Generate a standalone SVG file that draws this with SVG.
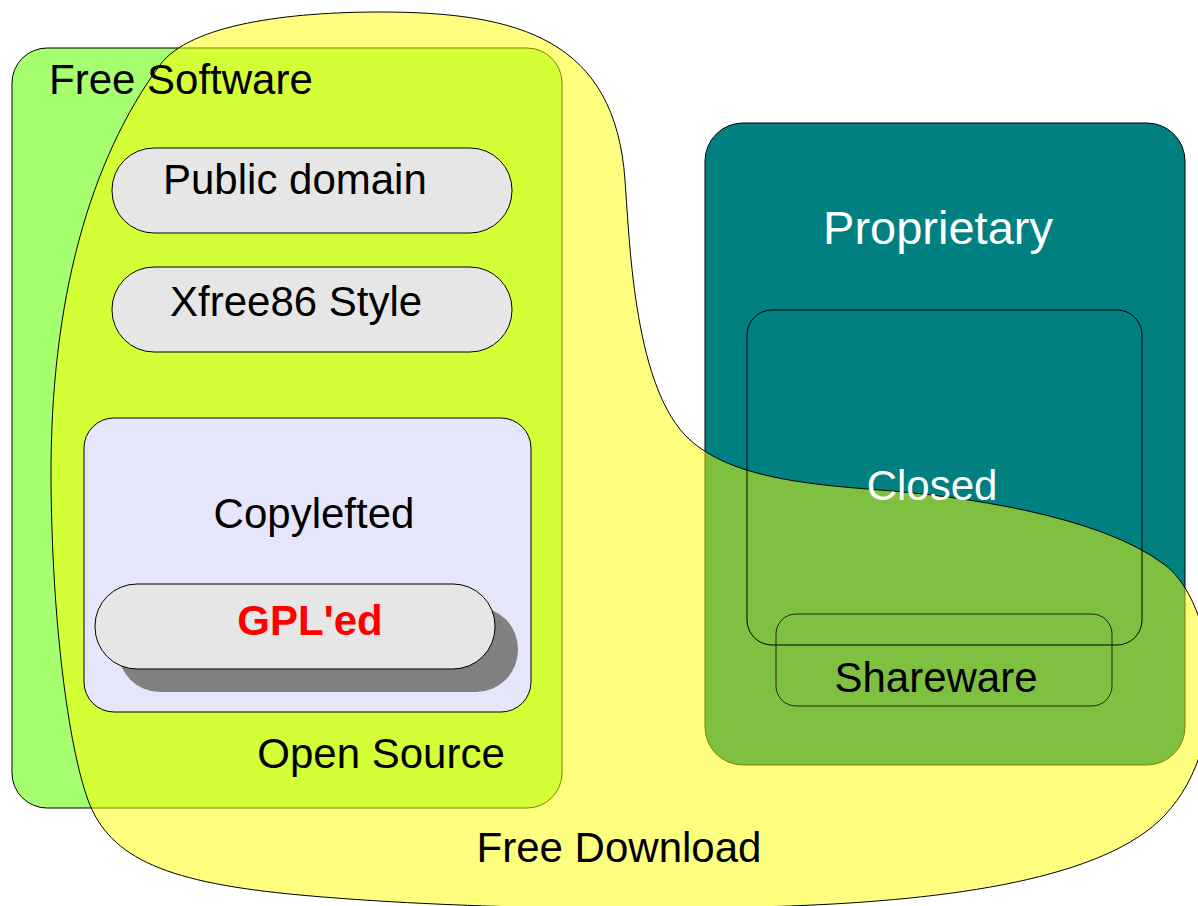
<svg xmlns="http://www.w3.org/2000/svg" width="1198" height="906" viewBox="0 0 1198 906">
<style>
  text { font-family: "Liberation Sans", Arial, sans-serif; font-size: 42px; fill: #000; }
  .pill { fill: #e6e6e6; stroke: #000; stroke-width: 1; }
  .frame { fill: none; stroke: #000; stroke-width: 1; }
  .white { fill: #fff; }
</style>
<rect x="0" y="0" width="1198" height="906" fill="#fff"/>

<g id="free-software">
  <rect x="12" y="48" width="550" height="760" rx="35" ry="35" fill="#a6ff6e" stroke="#000" stroke-width="1"/>
</g>

<g id="proprietary">
  <rect x="705" y="123" width="480" height="642" rx="38" ry="38" fill="#008080" stroke="#000" stroke-width="1"/>
</g>

<g id="free-download">
  <path d="M 51,480 C 50,300 90,160 160,65 C 190,24 290,12 380,12 C 520,12 615,40 625,180 C 630,250 635,390 690,440 C 730,476 800,484 880,490 C 960,496 1100,515 1165,565 C 1215,603 1235,740 1165,815 C 1105,879 950,900 790,906 C 620,912 430,907 300,895 C 170,883 110,860 88,800 C 68,745 52,620 51,480 Z" fill="#ffff00" fill-opacity="0.5" stroke="#000" stroke-width="1"/>
</g>

<g id="public-domain">
  <rect class="pill" x="112" y="148" width="400" height="85" rx="42" ry="42"/>
  <text x="163" y="194">Public domain</text>
</g>

<g id="xfree86">
  <rect class="pill" x="112" y="267" width="400" height="85" rx="42" ry="42"/>
  <text x="170" y="316">Xfree86 Style</text>
</g>

<g id="copylefted">
  <rect x="84" y="418" width="447" height="294" rx="30" ry="30" fill="#e6e6fa" stroke="#000" stroke-width="1"/>
  <text x="314" y="528" text-anchor="middle">Copylefted</text>
</g>

<g id="gpled">
  <rect x="118" y="607" width="400" height="85" rx="42" ry="42" fill="#808080"/>
  <rect class="pill" x="95" y="584" width="400" height="85" rx="42" ry="42"/>
  <text x="310" y="635" text-anchor="middle" style="font-weight:bold; fill:#ff0000">GPL'ed</text>
</g>

<g id="closed">
  <rect class="frame" x="747" y="310" width="395" height="335" rx="25" ry="25"/>
  <text class="white" x="932" y="500" text-anchor="middle">Closed</text>
</g>

<g id="shareware">
  <rect class="frame" x="776" y="614" width="336" height="92" rx="20" ry="20" style="stroke:#222"/>
  <text x="936" y="692" text-anchor="middle">Shareware</text>
</g>

<g id="labels">
  <text x="49" y="94">Free Software</text>
  <text x="381" y="768" text-anchor="middle">Open Source</text>
  <text x="619" y="862" text-anchor="middle">Free Download</text>
  <text class="white" x="938" y="244" text-anchor="middle" style="font-size:47px">Proprietary</text>
</g>
</svg>
